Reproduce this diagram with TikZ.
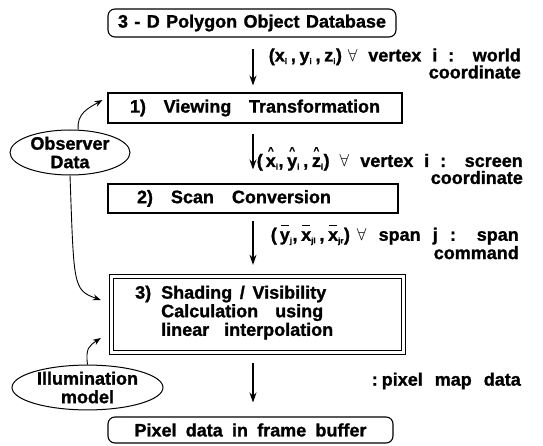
\documentclass[tikz,border=0pt]{standalone}
\usepackage{fontspec}
\setmainfont{Liberation Sans}[BoldFeatures={FakeBold=1.2}]
\usetikzlibrary{arrows.meta,shapes.geometric}

% spread the words of a line over a fixed width
\newcommand\spread[2]{\makebox[#1][s]{#2}}
% accents set above a letter
\newcommand\hatted[1]{\ooalign{#1\cr\hidewidth\raisebox{0.72em}{\fontsize{10}{10}\selectfont\textasciicircum}\hidewidth\cr}}
\newcommand\barred[1]{\ooalign{#1\cr\hidewidth\raisebox{0.82em}{\rule{0.42em}{1pt}}\hidewidth\cr}}
\newcommand\sub[1]{\textsubscript{\fontsize{8}{8}\selectfont #1}}

\begin{document}
\begin{tikzpicture}[
  font=\bfseries\fontsize{18}{18.5}\selectfont,
  stagebox/.style={draw, line width=1.1pt, inner sep=0pt},
  endbox/.style={stagebox, rounded corners=7pt},
  oval/.style={draw, ellipse, line width=1pt, inner sep=0pt, align=center},
  flow/.style={line width=1.1pt, -{Stealth[length=10pt,width=7pt]}},
  feed/.style={line width=0.9pt, -{Stealth[length=8pt,width=6pt]}},
  note/.style={inner sep=0pt, align=right, font=\bfseries\fontsize{18}{17}\selectfont}
]
\useasboundingbox (0,0) rectangle (543pt,445pt);
\begin{scope}[x=1pt,y=1pt]

% pipeline stages
\node[endbox, minimum width=288pt, minimum height=28pt] (db) at (252,422)
  {\spread{268pt}{3 - D Polygon Object Database}};
\node[stagebox, minimum width=294pt, minimum height=30pt] (vt) at (255,337)
  {\spread{250pt}{1) Viewing Transformation}};
\node[stagebox, minimum width=290pt, minimum height=29pt] (sc) at (253,246.5)
  {\makebox[290pt][l]{\hspace{29pt}\spread{194pt}{2) Scan Conversion}}};
\node[draw, double, double distance=2.6pt, line width=1pt,
  minimum width=292.4pt, minimum height=76.4pt, inner sep=0pt] (sh) at (257.5,130.5) {};
\node[inner sep=0pt, anchor=west] (shtext) at (135,131.5)
  {\begin{tabular}{@{}l@{\hspace{10pt}}l@{}}
   3) & \spread{165pt}{Shading / Visibility}\\
      & \spread{162pt}{Calculation using}\\
      & \spread{172pt}{linear interpolation}
   \end{tabular}};
\node[endbox, minimum width=285pt, minimum height=26pt] (fb) at (250.5,15)
  {\spread{232pt}{Pixel data in frame buffer}};

% external inputs
\node[oval, minimum width=120pt, minimum height=45pt] (obs) at (70,292.5)
  {Observer\\Data};
\node[oval, minimum width=151pt, minimum height=43pt] (ill) at (87.5,57.5)
  {Illumination\\model};

% data passed between stages
\draw[flow] ([yshift=-11pt]db.south -| 253,0) coordinate (a1s) -- ([yshift=7pt]vt.north -| 253,0) coordinate (a1e);
\draw[flow] ([yshift=-10pt]vt.south -| 253,0) coordinate (a2s) -- ([yshift=14pt]sc.north -| 253,0) coordinate (a2e);
\draw[flow] ([yshift=-7pt]sc.south -| 253,0) coordinate (a3s) -- ([yshift=11pt]sh.north -| 253,0) coordinate (a3e);
\draw[flow] ([yshift=-10pt]sh.south -| 253,0) coordinate (a4s) -- ([yshift=14pt]fb.north -| 253,0) coordinate (a4e);

\node[note, anchor=east] (n1) at (521,381.5)
  {\spread{252pt}{\mbox{\spread{68pt}{(x\sub{i} , y\sub{i} , z\sub{i})}} $\forall$ vertex i : world}\\coordinate};
\node[note, anchor=east] (n2) at (523,276)
  {\spread{266pt}{\mbox{\spread{72pt}{(\,\hatted{x}\sub{i}, \hatted{y}\sub{i} , \hatted{z}\sub{i})}} $\forall$ vertex i : screen}\\coordinate};
\node[note, anchor=east] (n3) at (519,201.5)
  {\spread{248pt}{\mbox{\spread{74pt}{(\,\barred{y}\sub{j}, \barred{x}\sub{jl} , \barred{x}\sub{jr})}} $\forall$ span j : span}\\command};
\node[note, anchor=east] (n4) at (521,64)
  {:\hspace{4pt}pixel\hspace{12pt}map\hspace{12pt}data};

% viewer and lighting inputs
\draw[feed] (obs.70) .. controls +(-2,16) and +(-14,-8) .. ([xshift=-5pt,yshift=8pt]vt.west);
\draw[feed] (obs.south) .. controls +(4,-110) and +(-28,10) .. ([xshift=-10pt,yshift=14.5pt]sh.west);
\draw[feed] (ill.north) .. controls +(-2,16) and +(-12,-8) .. ([xshift=-10pt,yshift=-23.5pt]sh.west);
\end{scope}
\end{tikzpicture}
\end{document}
